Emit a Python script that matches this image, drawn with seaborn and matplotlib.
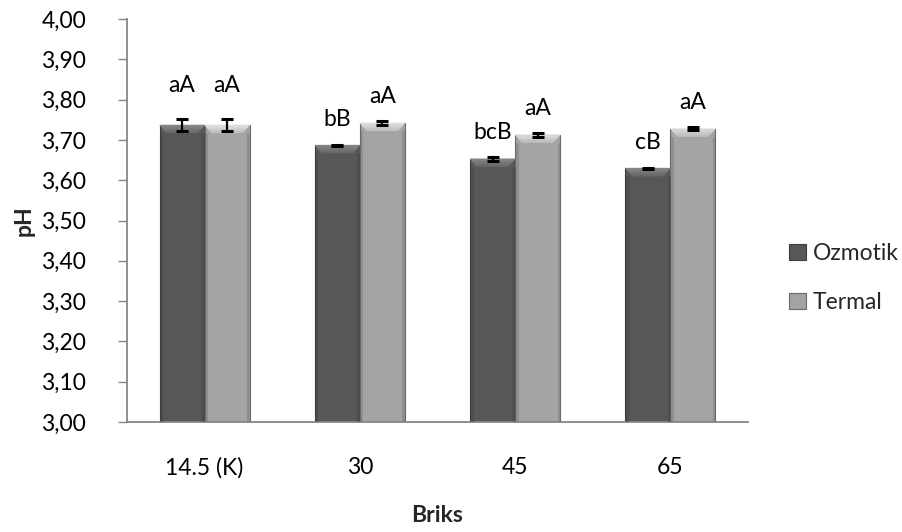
import matplotlib
matplotlib.use("Agg")
import matplotlib.pyplot as plt
from matplotlib.patches import Polygon, Patch
import numpy as np
import pandas as pd
import seaborn as sns

# Data
categories = ["14.5 (K)", "30", "45", "65"]
series = ["Ozmotik", "Termal"]
ph_ozmotik = [3.737, 3.687, 3.653, 3.630]
ph_termal = [3.737, 3.742, 3.713, 3.728]
err_ozmotik = [0.014, 0.001, 0.005, 0.001]
err_termal = [0.014, 0.004, 0.005, 0.004]
letters_ozmotik = ["aA", "bB", "bcB", "cB"]
letters_termal = ["aA", "aA", "aA", "aA"]
y_ticks = [3.0, 3.1, 3.2, 3.3, 3.4, 3.5, 3.6, 3.7, 3.8, 3.9, 4.0]

df = pd.DataFrame({
    "Briks": categories * 2,
    "Seri": [series[0]] * 4 + [series[1]] * 4,
    "pH": ph_ozmotik + ph_termal,
})

sns.set_theme(style="white")
fs = 16.5
plt.rcParams.update({
    "font.family": ["Lato", "DejaVu Sans"],
    "ytick.direction": "out",
    "ytick.left": True,
})

W, H, DPI = 903, 532, 100
fig = plt.figure(figsize=(W / DPI, H / DPI), dpi=DPI)
ax_l, ax_r, ax_t, ax_b = 127, 748, 19, 422
ax = fig.add_axes([ax_l / W, 1 - ax_b / H, (ax_r - ax_l) / W, (ax_b - ax_t) / H])

body = {"Ozmotik": "#575757", "Termal": "#a4a4a4"}
bevel_hi = {"Ozmotik": "#8c8c8c", "Termal": "#e6e6e6"}
bevel_lo = {"Ozmotik": "#686868", "Termal": "#bdbdbd"}
rim = {"Ozmotik": "#3c3c3c", "Termal": "#6a6a6a"}

sns.barplot(data=df, x="Briks", y="pH", hue="Seri", order=categories,
            hue_order=series, palette=body, width=0.58, errorbar=None,
            saturation=1, legend=False, ax=ax, zorder=2)

ax.set_ylim(3.0, 4.0)
ax.set_xlim(-0.5, 3.5)
ax.set_yticks(y_ticks)
ax.set_yticklabels([f"{v:.2f}".replace(".", ",") for v in y_ticks])

px_y = 1.0 / (ax_b - ax_t)
px_x = 4.0 / (ax_r - ax_l)

vals = {"Ozmotik": ph_ozmotik, "Termal": ph_termal}
errs = {"Ozmotik": err_ozmotik, "Termal": err_termal}
letters = {"Ozmotik": letters_ozmotik, "Termal": letters_termal}
label_gap_px = [39, 26, 26, 26]

patches = list(ax.patches)
for si, s in enumerate(series):
    for ci in range(len(categories)):
        p = patches[si * len(categories) + ci]
        x0, w = p.get_x(), p.get_width()
        top = p.get_y() + p.get_height()
        p.set_edgecolor(rim[s])
        p.set_linewidth(0.8)
        # bevelled top face: stacked slices from light to body colour
        steps = 8
        d, dh = 7 * px_x, 8 * px_y
        c_hi = np.array(matplotlib.colors.to_rgb(bevel_hi[s]))
        c_lo = np.array(matplotlib.colors.to_rgb(bevel_lo[s]))
        for k in range(steps):
            f0, f1 = k / steps, (k + 1) / steps
            col = c_hi + (c_lo - c_hi) * (k + 0.5) / steps
            ax.add_patch(Polygon([(x0 + d * f0, top - dh * f0),
                                  (x0 + w - d * f0, top - dh * f0),
                                  (x0 + w - d * f1, top - dh * f1),
                                  (x0 + d * f1, top - dh * f1)], closed=True,
                                 facecolor=col, edgecolor=col, lw=0.3,
                                 zorder=3))
        # darker side rims
        for xe in (x0 + 1.5 * px_x, x0 + w - 1.5 * px_x):
            ax.plot([xe, xe], [3.0, top - dh], color=rim[s], lw=2.2,
                    alpha=0.35, zorder=3, solid_capstyle="butt")
        xc = x0 + w / 2
        ax.errorbar(xc, vals[s][ci], yerr=errs[s][ci], fmt="none",
                    ecolor="black", elinewidth=1.6, capsize=4.3,
                    capthick=2.2, zorder=4)
        ax.annotate(letters[s][ci], (xc, vals[s][ci]),
                    xytext=(0, label_gap_px[ci] * 0.72),
                    textcoords="offset points", ha="center", va="center",
                    fontsize=fs, color="black", zorder=5)

for side in ("top", "right"):
    ax.spines[side].set_visible(False)
for side in ("left", "bottom"):
    ax.spines[side].set_color("#868686")
    ax.spines[side].set_linewidth(1.3)
ax.tick_params(axis="y", which="major", direction="out", length=6.5,
               width=1.0, color="#868686", labelsize=fs, pad=23, left=True,
               labelcolor="black")
ax.tick_params(axis="x", length=0, labelsize=fs, pad=25, labelcolor="black")
ax.set_xlabel("")
ax.set_ylabel("")

fig.text(24 / W, 1 - 221 / H, "pH", rotation=90, ha="center", va="center",
         fontsize=fs, fontweight="bold")
fig.text((ax_l + ax_r) / 2 / W, 1 - 516 / H, "Briks", ha="center",
         va="center", fontsize=fs, fontweight="bold")

handles = [Patch(facecolor=body[s], edgecolor=rim[s], linewidth=0.8) for s in series]
fig.legend(handles, series, loc="center left",
           bbox_to_anchor=(780 / W, 1 - 278 / H), frameon=False, fontsize=fs,
           handlelength=0.72, handleheight=0.72, handletextpad=0.3,
           labelspacing=1.2, borderaxespad=0)

fig.savefig("out.png", dpi=DPI)
